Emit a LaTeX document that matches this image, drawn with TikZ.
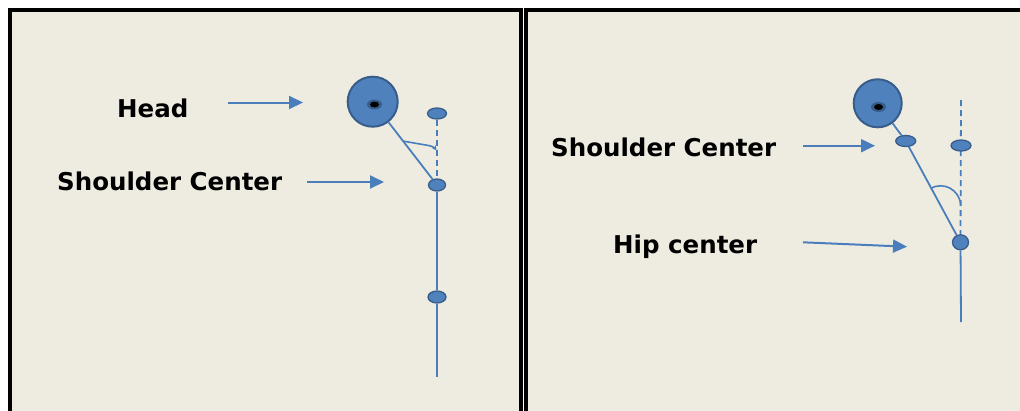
\documentclass[tikz,border=0pt]{standalone}
\usepackage{fontspec}
\setmainfont{DejaVu Sans}
\usetikzlibrary{shapes.geometric,arrows.meta}
\definecolor{paper}{HTML}{EEECE1}
\definecolor{jointblue}{HTML}{4F81BD}
\definecolor{jointedge}{HTML}{385D8A}
\definecolor{limbblue}{HTML}{4A7EBB}
\tikzset{
  panel/.style={fill=paper, draw=black, line width=4pt},
  limb/.style={draw=limbblue, line width=1.8pt},
  plumb/.style={draw=limbblue, line width=1.8pt, dash pattern=on 6pt off 4pt},
  joint/.style={ellipse, draw=jointedge, fill=jointblue, line width=1.3pt, inner sep=0pt},
  headball/.style={circle, draw=jointedge, fill=jointblue, line width=2pt, inner sep=0pt, minimum size=50pt},
  eye/.style={ellipse, fill=black, inner sep=0pt, minimum width=9pt, minimum height=6pt},
  eyehalo/.style={ellipse, fill=jointedge, inner sep=0pt, minimum width=15pt, minimum height=10pt},
  pointer/.style={draw=limbblue, line width=2pt, -{Triangle[length=14pt,width=13pt]}},
  anglemark/.style={draw=limbblue, line width=1.6pt},
  lbl/.style={font=\bfseries\fontsize{24.5}{28}\selectfont, inner sep=0pt, anchor=base west, text=black},
}
\begin{document}
\begin{tikzpicture}[x=1pt,y=-1pt]
\useasboundingbox (0,0) rectangle (1020,410);
\clip (0,0) rectangle (1020,410);
\fill[white] (0,0) rectangle (1020,410);
% panels
\draw[panel] (9.5,10) rectangle (520.5,430);
\draw[panel] (526,10) rectangle (1040,430);

% ---------- left panel ----------
\node[headball] (headL) at (372.7,101.7) {};
\node[eyehalo] (eyehL) at (374.5,104.5) {};
\node[eye] (eyeL) at (374.5,104.5) {};
\node[joint, minimum width=19pt, minimum height=11pt] (refL) at (437,113.5) {};
\node[joint, minimum width=17pt, minimum height=12pt] (shL) at (437,185) {};
\node[joint, minimum width=18pt, minimum height=12pt] (hipL) at (437,297) {};
\coordinate (footL) at (437,377);
\draw[plumb] (refL) -- (shL);
\draw[limb] (headL) -- (shL);
\draw[limb] (shL) -- (hipL);
\draw[limb] (hipL) -- (footL);
\coordinate (angLa) at (402.7,141);
\coordinate (angLb) at (436.5,150.5);
\draw[anglemark, -{Stealth[length=5pt,width=5pt]}] (angLa) .. controls (424,145) and (433,145.5) .. (angLb);

\node[lbl] (tHead) at (117,117) {Head};
\node[lbl] (tShL) at (57,190) {Shoulder Center};
\coordinate (aHs) at (228,102.5);
\coordinate (aHe) at (303,102.5);
\coordinate (aSs) at (307,182);
\coordinate (aSe) at (384,182);
\draw[pointer] (aHs) -- (aHe);
\draw[pointer] (aSs) -- (aSe);

% ---------- right panel ----------
\coordinate (plumbTop) at (961,100);
\node[headball, minimum size=48pt] (headR) at (877.7,103.3) {};
\node[eyehalo] (eyehR) at (878.5,107) {};
\node[eye] (eyeR) at (878.5,107) {};
\node[joint, minimum width=20pt, minimum height=11pt] (shR) at (905.7,141) {};
\node[joint, minimum width=16pt, minimum height=15pt] (hipR) at (960.5,242.3) {};
\coordinate (footR) at (961,322);
\draw[plumb] (plumbTop) -- (hipR);
\node[joint, minimum width=20pt, minimum height=11pt] (refR) at (961,145.5) {};
\draw[limb] (headR) -- (shR);
\draw[limb] (shR) -- (hipR);
\draw[limb] (hipR) -- (footR);
\coordinate (angRa) at (930.5,188.5);
\coordinate (angRb) at (960.7,204);
\draw[anglemark] (angRa) .. controls (944,181) and (959,190) .. (angRb);

\node[lbl] (tShR) at (551,156) {Shoulder Center};
\node[lbl] (tHip) at (613,253.3) {Hip center};
\coordinate (bSs) at (803,145.7);
\coordinate (bSe) at (875,145.7);
\coordinate (bHs) at (803,242.3);
\coordinate (bHe) at (907,246.7);
\draw[pointer] (bSs) -- (bSe);
\draw[pointer] (bHs) -- (bHe);
\end{tikzpicture}
\end{document}
